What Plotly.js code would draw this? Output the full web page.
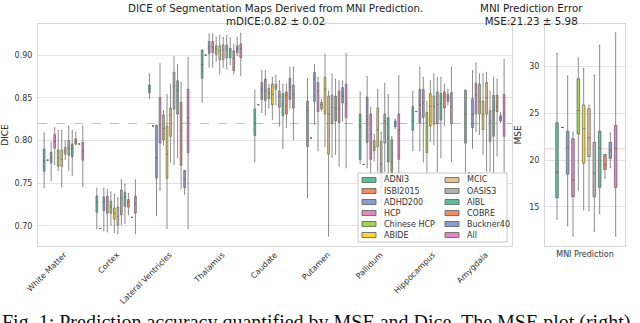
<!DOCTYPE html>
<html>
<head>
<meta charset="utf-8">
<script src="https://cdn.plot.ly/plotly-3.0.1.min.js"></script>
<style>
  html, body { margin: 0; padding: 0; background: #fff; }
  #chart { width: 640px; height: 323px; }
</style>
</head>
<body>
<div id="chart"></div>
<script>
// Regions on the DICE axis
const regions = ['White Matter', 'Cortex', 'Lateral Ventricles', 'Thalamus', 'Caudate',
  'Putamen', 'Pallidum', 'Hippocampus', 'Amygdala'];

const datasets = ['ADNI3', 'ISBI2015', 'ADHD200', 'HCP', 'Chinese HCP', 'ABIDE',
  'MCIC', 'OASIS3', 'AIBL', 'COBRE', 'Buckner40', 'All'];

const colors = ['#5fbf9c', '#f4895e', '#8a9fcf', '#e585c2', '#a3d44f', '#fcd72c',
  '#e2c38f', '#b3b3b3', '#5fbf9c', '#f4895e', '#8a9fcf', '#e585c2'];

// DICE per region: [lower whisker, q1, median, q3, upper whisker]
const adni3 = [[0.745, 0.764, 0.776, 0.790, 0.809], [0.697, 0.716, 0.728, 0.735, 0.744],
  [0.849, 0.856, 0.861, 0.865, 0.878], [0.845, 0.873, 0.889, 0.906, 0.906],
  [0.775, 0.806, 0.820, 0.837, 0.859], [0.733, 0.793, 0.835, 0.846, 0.873],
  [0.773, 0.778, 0.816, 0.831, 0.857], [0.788, 0.812, 0.823, 0.840, 0.858],
  [0.750, 0.797, 0.831, 0.859, 0.859]];
const isbi2015 = [[0.777, 0.777, 0.777, 0.777, 0.777], [0.697, 0.697, 0.697, 0.697, 0.697],
  [0.817, 0.817, 0.817, 0.817, 0.817], [0.900, 0.900, 0.900, 0.900, 0.900],
  [0.842, 0.842, 0.842, 0.842, 0.842], [0.803, 0.803, 0.803, 0.803, 0.803],
  [0.772, 0.772, 0.772, 0.772, 0.772], [0.834, 0.834, 0.834, 0.834, 0.834],
  [0.762, 0.762, 0.762, 0.762, 0.762]];
const adhd200 = [[0.753, 0.774, 0.779, 0.786, 0.798], [0.694, 0.718, 0.729, 0.734, 0.744],
  [0.712, 0.756, 0.780, 0.818, 0.818], [0.886, 0.902, 0.910, 0.916, 0.925],
  [0.833, 0.848, 0.859, 0.868, 0.882], [0.819, 0.846, 0.872, 0.880, 0.889],
  [0.768, 0.798, 0.825, 0.851, 0.875], [0.788, 0.821, 0.842, 0.860, 0.886],
  [0.791, 0.815, 0.831, 0.849, 0.882]];
const hcp = [[0.772, 0.791, 0.799, 0.807, 0.815], [0.693, 0.715, 0.729, 0.735, 0.743],
  [0.742, 0.797, 0.819, 0.850, 0.890], [0.886, 0.903, 0.910, 0.916, 0.925],
  [0.830, 0.847, 0.859, 0.872, 0.882], [0.788, 0.834, 0.858, 0.868, 0.874],
  [0.761, 0.778, 0.807, 0.831, 0.839], [0.775, 0.827, 0.844, 0.860, 0.874],
  [0.811, 0.831, 0.853, 0.867, 0.891]];
const chineseHcp = [[0.765, 0.770, 0.779, 0.789, 0.812], [0.701, 0.715, 0.722, 0.729, 0.740],
  [0.795, 0.801, 0.814, 0.830, 0.835], [0.893, 0.901, 0.907, 0.911, 0.921],
  [0.838, 0.849, 0.856, 0.861, 0.866], [0.835, 0.837, 0.842, 0.845, 0.848],
  [0.776, 0.788, 0.793, 0.800, 0.807], [0.760, 0.786, 0.821, 0.833, 0.846],
  [0.807, 0.831, 0.846, 0.866, 0.878]];
const abide = [[0.746, 0.770, 0.778, 0.789, 0.812], [0.692, 0.708, 0.715, 0.721, 0.737],
  [0.697, 0.756, 0.784, 0.817, 0.854], [0.878, 0.895, 0.905, 0.911, 0.923],
  [0.825, 0.842, 0.854, 0.866, 0.874], [0.793, 0.831, 0.860, 0.874, 0.901],
  [0.764, 0.793, 0.813, 0.838, 0.860], [0.799, 0.817, 0.840, 0.855, 0.870],
  [0.784, 0.813, 0.831, 0.846, 0.878]];
const mcic = [[0.778, 0.784, 0.788, 0.792, 0.800], [0.691, 0.701, 0.711, 0.722, 0.733],
  [0.775, 0.805, 0.830, 0.838, 0.866], [0.886, 0.895, 0.906, 0.912, 0.921],
  [0.842, 0.860, 0.863, 0.866, 0.876], [0.688, 0.784, 0.831, 0.852, 0.858],
  [0.700, 0.745, 0.772, 0.799, 0.810], [0.795, 0.819, 0.840, 0.852, 0.878],
  [0.764, 0.831, 0.850, 0.868, 0.880]];
const oasis3 = [[0.765, 0.783, 0.791, 0.800, 0.817], [0.702, 0.713, 0.733, 0.742, 0.754],
  [0.772, 0.837, 0.864, 0.880, 0.898], [0.884, 0.897, 0.907, 0.912, 0.923],
  [0.817, 0.839, 0.852, 0.858, 0.870], [0.780, 0.820, 0.839, 0.853, 0.878],
  [0.764, 0.797, 0.823, 0.831, 0.867], [0.764, 0.820, 0.842, 0.857, 0.874],
  [0.764, 0.799, 0.823, 0.835, 0.858]];
const aibl = [[0.759, 0.781, 0.791, 0.796, 0.812], [0.703, 0.723, 0.734, 0.739, 0.749],
  [0.780, 0.831, 0.859, 0.870, 0.889], [0.889, 0.897, 0.905, 0.908, 0.920],
  [0.791, 0.829, 0.843, 0.855, 0.866], [0.784, 0.823, 0.838, 0.852, 0.872],
  [0.762, 0.775, 0.803, 0.827, 0.854], [0.780, 0.824, 0.844, 0.855, 0.874],
  [0.762, 0.805, 0.835, 0.853, 0.874]];
const cobre = [[0.795, 0.796, 0.799, 0.802, 0.810], [0.713, 0.722, 0.728, 0.731, 0.738],
  [0.744, 0.771, 0.812, 0.845, 0.868], [0.878, 0.882, 0.896, 0.905, 0.913],
  [0.815, 0.831, 0.853, 0.857, 0.866], [0.770, 0.821, 0.837, 0.858, 0.870],
  [0.700, 0.755, 0.774, 0.801, 0.805], [0.818, 0.838, 0.852, 0.857, 0.866],
  [0.782, 0.834, 0.840, 0.853, 0.872]];
const buckner40 = [[0.796, 0.796, 0.796, 0.796, 0.796], [0.710, 0.710, 0.710, 0.710, 0.710],
  [0.737, 0.745, 0.755, 0.765, 0.765], [0.899, 0.903, 0.908, 0.911, 0.921],
  [0.838, 0.848, 0.862, 0.873, 0.886], [0.823, 0.844, 0.852, 0.862, 0.870],
  [0.814, 0.816, 0.820, 0.823, 0.825], [0.842, 0.846, 0.850, 0.854, 0.860],
  [0.821, 0.823, 0.826, 0.829, 0.833]];
const all = [[0.746, 0.777, 0.788, 0.798, 0.817], [0.691, 0.715, 0.726, 0.735, 0.754],
  [0.697, 0.786, 0.827, 0.860, 0.897], [0.876, 0.897, 0.908, 0.913, 0.926],
  [0.801, 0.838, 0.854, 0.865, 0.886], [0.768, 0.827, 0.843, 0.866, 0.902],
  [0.761, 0.778, 0.812, 0.831, 0.876], [0.775, 0.820, 0.840, 0.856, 0.886],
  [0.764, 0.805, 0.831, 0.854, 0.895]];

// MNI prediction error (MSE) per dataset: [lower, q1, median, q3, upper]
const mse = [
  [13.7, 16.0, 18.7, 24.0, 31.4],
  [23.5, 23.5, 23.5, 23.5, 23.5],
  [13.0, 18.5, 21.4, 23.1, 29.0],
  [11.9, 16.1, 17.9, 22.3, 23.0],
  [16.8, 22.8, 25.3, 28.7, 30.9],
  [14.7, 19.7, 23.4, 25.9, 29.8],
  [14.6, 20.4, 22.4, 25.5, 25.9],
  [12.4, 16.1, 18.6, 21.9, 29.1],
  [14.3, 17.1, 21.3, 23.1, 32.3],
  [18.1, 19.0, 19.5, 20.6, 20.6],
  [19.2, 20.2, 21.1, 21.9, 22.9],
  [11.9, 17.1, 21.3, 23.7, 33.6]
];

const meanDice = 0.82;
const meanMse = 21.23;

const diceStats = [adni3, isbi2015, adhd200, hcp, chineseHcp, abide,
  mcic, oasis3, aibl, cobre, buckner40, all];

const edge = '#5c5c5c';
const font = 'DejaVu Sans, sans-serif';

const traces = [];
datasets.forEach((name, i) => {
  const s = diceStats[i];
  traces.push({
    type: 'box', name: name, x: regions,
    lowerfence: s.map(d => d[0]), q1: s.map(d => d[1]), median: s.map(d => d[2]),
    q3: s.map(d => d[3]), upperfence: s.map(d => d[4]),
    fillcolor: colors[i], line: { color: edge, width: 0.7 }, whiskerwidth: 0.5,
    boxpoints: false, hoverinfo: 'skip', showlegend: false,
    xaxis: 'x', yaxis: 'y'
  });
  const m = mse[i];
  traces.push({
    type: 'box', name: name, x: ['MNI Prediction'],
    lowerfence: [m[0]], q1: [m[1]], median: [m[2]], q3: [m[3]], upperfence: [m[4]],
    fillcolor: colors[i], line: { color: edge, width: 0.7 }, whiskerwidth: 0.5,
    boxpoints: false, hoverinfo: 'skip', showlegend: false,
    xaxis: 'x2', yaxis: 'y2'
  });
});

// pixel -> paper helpers (plot area 38..625 x 24..246)
const px = x => (x - 38) / 587;
const py = y => (246 - y) / 222;

const shapes = [
  { type: 'line', xref: 'paper', x0: 0, x1: 0.8075, yref: 'y', y0: meanDice, y1: meanDice,
    line: { color: '#f08a8a', width: 1, dash: 'dash' }, opacity: 0.7, layer: 'below' },
  { type: 'line', xref: 'paper', x0: 0.8637, x1: 1, yref: 'y2', y0: meanMse, y1: meanMse,
    line: { color: '#f08a8a', width: 1, dash: 'dash' }, opacity: 0.4, layer: 'below' },
  // legend frame
  { type: 'rect', xref: 'paper', yref: 'paper', x0: px(358), x1: px(507), y0: py(242), y1: py(173),
    fillcolor: 'rgba(255,255,255,0.85)', line: { color: '#c8c8c8', width: 1 }, layer: 'above' }
];

const annotations = [
  { xref: 'paper', yref: 'paper', x: px(275), y: py(0), yanchor: 'top', showarrow: false,
    text: 'DICE of Segmentation Maps Derived from MNI Prediction.<br>mDICE:0.82 ± 0.02',
    font: { family: font, size: 10.3, color: '#222' } },
  { xref: 'paper', yref: 'paper', x: px(585), y: py(0), yanchor: 'top', showarrow: false,
    text: 'MNI Prediction Error<br>MSE:21.23 ± 5.98',
    font: { family: font, size: 10.3, color: '#222' } },
  { xref: 'paper', yref: 'paper', x: px(0), y: py(309), xanchor: 'left', yanchor: 'top', showarrow: false,
    text: 'Fig. 1: Prediction accuracy quantified by MSE and Dice. The MSE plot (right)',
    font: { family: 'Liberation Serif, serif', size: 20, color: '#111' } }
];

// two-column legend drawn in the lower right of the DICE panel
datasets.forEach((name, i) => {
  const col = i < 6 ? 0 : 1;
  const row = i % 6;
  const yc = 180 + row * 11;
  const x0 = col ? 445 : 362;
  shapes.push({ type: 'rect', xref: 'paper', yref: 'paper',
    x0: px(x0), x1: px(x0 + 14), y0: py(yc + 2.5), y1: py(yc - 2.5),
    fillcolor: colors[i], line: { color: edge, width: 0.8 }, layer: 'above' });
  annotations.push({ xref: 'paper', yref: 'paper', x: px(x0 + 20), y: py(yc),
    xanchor: 'left', yanchor: 'middle', showarrow: false, text: name,
    font: { family: font, size: 8, color: '#333' } });
});

const axisBase = {
  showline: true, mirror: true, linecolor: '#d6d6d6', linewidth: 1,
  ticks: '', zeroline: false, tickfont: { family: font, size: 8, color: '#333' }
};

const layout = {
  width: 640, height: 323,
  margin: { l: 38, r: 15, t: 24, b: 77 },
  paper_bgcolor: '#fff', plot_bgcolor: '#fff',
  boxmode: 'group', boxgap: 0.2, boxgroupgap: 0.03,
  font: { family: font, color: '#333' },
  xaxis: Object.assign({}, axisBase, {
    domain: [0, 0.8075], type: 'category', range: [-0.5, 8.5],
    showgrid: false, tickangle: -45
  }),
  yaxis: Object.assign({}, axisBase, {
    range: [0.6765, 0.9365], tickvals: [0.70, 0.75, 0.80, 0.85, 0.90], tickformat: '.2f',
    gridcolor: '#e3e3e3', ticklabelstandoff: 3,
    title: { text: 'DICE', font: { family: font, size: 9, color: '#222' }, standoff: 6 }
  }),
  xaxis2: Object.assign({}, axisBase, {
    domain: [0.8637, 1], anchor: 'y2', type: 'category', range: [-0.5, 0.5],
    showgrid: false, tickangle: 0
  }),
  yaxis2: Object.assign({}, axisBase, {
    anchor: 'x2', range: [10.83, 34.56], tickvals: [15, 20, 25, 30],
    gridcolor: '#e3e3e3', ticklabelstandoff: 3,
    title: { text: 'MSE', font: { family: font, size: 9, color: '#222' }, standoff: 6 }
  }),
  shapes: shapes,
  annotations: annotations,
  showlegend: false
};

Plotly.newPlot('chart', traces, layout, { staticPlot: true, displayModeBar: false });
</script>
</body>
</html>
